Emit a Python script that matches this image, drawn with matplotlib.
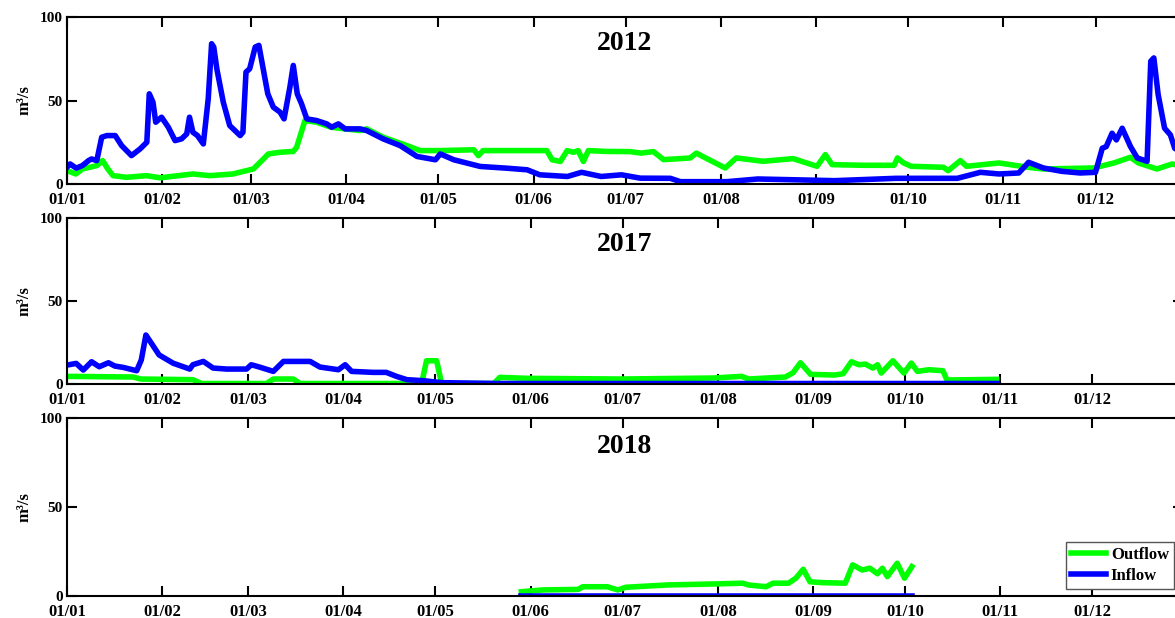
import matplotlib
matplotlib.use("Agg")
import matplotlib.pyplot as plt
import matplotlib.dates as mdates
import numpy as np
from datetime import datetime

plt.rcParams['font.family'] = ['Liberation Serif', 'DejaVu Serif']
plt.rcParams['font.weight'] = 'bold'

# ---------------- data: (day-of-year offset, m3/s) ----------------
in2012_day = [0, 1, 3, 5, 7, 8, 9.7, 11.3, 13, 15.7, 17.8, 21, 23.8, 26, 26.8, 28, 28.9, 30.8, 33,
              35.2, 37.3, 39, 39.9, 41, 42.5, 44.4, 46, 47.1, 47.8, 48.8, 50.9, 53, 56.4, 57.3, 58.3,
              59.5, 61.3, 62.5, 64, 65.4, 67.2, 69.4, 70.7, 72.6, 73.7, 75, 76.4, 78.1, 81.3, 84.6,
              86.2, 88.4, 90.6, 95.5, 97.6, 103, 108.5, 114, 120, 121.6, 126, 134.6, 143, 149.9, 154,
              163, 167.6, 174, 180.6, 186.7, 196.5, 199.8, 215, 225, 250, 270, 283, 290, 297.5, 303.6,
              310, 313.2, 318, 324, 330, 335, 337.2, 338.5, 340.4, 341.8, 343.7, 346.4, 348.6, 351.8,
              353, 354, 355.4, 357.5, 359.4, 360.8, 363]
in2012_val = [10, 12, 9.5, 11, 14, 15, 14, 28, 29, 29, 23, 17, 21, 25, 54, 49, 37, 40, 34,
              26, 27, 30, 40, 31, 29, 24, 51, 84, 82, 69, 49, 35, 29, 31, 67,
              69, 82, 83, 68, 54, 46, 43, 39, 58, 71, 54, 48, 39, 38, 36,
              34, 36, 33, 33, 32, 27, 23, 16.5, 14.5, 18, 14.5, 10.5, 9.5, 8.5, 5.5,
              4.5, 7, 4.5, 5.5, 3.5, 3.4, 1.4, 1.4, 3, 2, 3.4, 3.4, 3.4, 7, 6,
              6.6, 13, 9.6, 7.6, 6.6, 7, 21.4, 22.4, 30.4, 26.4, 33.4, 22.4, 15.6, 13.6,
              73.5, 75.5, 53.6, 33.4, 29.4, 21.4, 19]

out2012_day = [0, 2.9, 5, 9.7, 11.6, 13.3, 15, 19.4, 25.9, 30.3, 41, 46.6, 54, 60.7, 62.9, 65.6,
               69.4, 73.7, 74.8, 77.5, 81.3, 86, 90.6, 95.5, 97.6, 103, 110.7, 115, 121.6, 132.5,
               134, 135.5, 156.3, 158, 160.7, 162.9, 165, 166.5, 168.2, 169.8, 175.8, 183.4, 187,
               191, 194.3, 199.8, 203, 205, 208, 214.4, 218, 226.7, 236.5, 244.3, 247, 249.2,
               259.6, 269.4, 270.5, 272.5, 275, 285.5, 287, 291, 293, 303.6, 313, 318, 334.4,
               341, 346.4, 349, 355, 360, 363]
out2012_val = [8, 6, 9, 11, 14, 9, 5, 4, 5, 3.7, 6, 5, 6, 9, 13, 18,
               19, 19.5, 22, 38, 37, 34, 33, 32, 33, 28, 23, 20, 20, 20.5,
               17, 20, 20, 14.5, 13.5, 20, 19, 20, 13.5, 20, 19.5, 19.4, 18.5,
               19.4, 14.6, 15.2, 15.6, 18.5, 15.6, 9.6, 15.6, 13.6, 15.2, 10.6, 17.6, 11.6,
               11.2, 11.2, 15.6, 12.6, 10.6, 10, 8, 14, 10.6, 12.6, 10, 9, 9.6,
               12.6, 16, 12.6, 9, 12, 10.6]

in2017_day = [0, 3, 5.3, 8, 10.5, 13.5, 15.6, 18.3, 22.7, 24.2, 25.7, 27.5, 30, 34.6, 40, 41,
              44.4, 47.6, 52, 58.5, 60, 62.7, 67.2, 70.5, 79.2, 82.4, 88.4, 90.6, 92.7, 99.8,
              104, 107.3, 110.7, 116, 122, 140, 303]
in2017_val = [11.4, 12.4, 8.4, 13.4, 10.4, 12.8, 10.8, 10, 8, 14.5, 29.5, 24.5, 17.5, 12.5, 9, 11.6,
              13.6, 9.6, 9, 9, 11.6, 10.2, 7.6, 13.6, 13.6, 10.2, 8.6, 11.6, 7.6, 7,
              7, 4.6, 2.6, 2, 0.8, 0.3, 0.3]

out2017_day = [0, 21.6, 24, 41, 43.8, 65, 67.2, 73.7, 75.9, 115.5, 117.1, 120.4, 122, 139, 141, 150,
               180.7, 210.6, 219.7, 222, 234, 236.5, 238.9, 242.2, 250, 252.8, 255.5, 258, 260,
               262.5, 264, 265.2, 269, 272.6, 275, 277, 280.7, 285.3, 286.6, 302.8]
out2017_val = [4.6, 4.2, 3, 2.6, 0.3, 0.3, 3, 3, 0.3, 0.3, 14, 14, 0.3, 0.3, 4, 3.4,
               3, 3.6, 4.6, 3, 4.2, 6.8, 12.8, 5.8, 5.4, 6.2, 13.4, 11.6, 12,
               9.6, 11.6, 6.6, 14, 6.6, 12.6, 7.6, 8.6, 8, 2.4, 2.8]

in2018_day = [148, 275.2]
in2018_val = [0, 0]

out2018_day = [148, 155, 166.5, 168, 176, 179.4, 182, 195.5, 211.6, 220, 222, 227.7, 230, 235,
               237.4, 239.8, 242, 246, 253.5, 255.9, 259, 261.5, 264, 265.6, 267.2, 270.4,
               272.8, 275.2]
out2018_val = [2.4, 3.4, 3.7, 5.2, 5.2, 3.4, 4.9, 6.2, 6.8, 7.2, 6.2, 5.2, 7.2, 7.2,
               10, 15, 8, 7.5, 7.2, 17.5, 14.6, 15.6, 12.5, 15.6, 10.9, 18.4,
               10, 16.5]

years = [2012, 2017, 2018]
inflow = [(in2012_day, in2012_val), (in2017_day, in2017_val), (in2018_day, in2018_val)]
outflow = [(out2012_day, out2012_val), (out2017_day, out2017_val), (out2018_day, out2018_val)]

GREEN = '#00ff00'
BLUE = '#0000ff'

W, H = 1175, 618
fig = plt.figure(figsize=(W / 100, H / 100), dpi=100)

left = 67 / W
width = (1183 - 67) / W
panels = [(17, 184), (218, 384), (418, 596)]

axes = []
for i, (yr, (t_px, b_px)) in enumerate(zip(years, panels)):
    ax = fig.add_axes([left, 1 - b_px / H, width, (b_px - t_px) / H])
    axes.append(ax)
    base = mdates.date2num(datetime(yr, 1, 1))
    od, ov = outflow[i]
    idd, iv = inflow[i]
    ax.plot(base + np.asarray(od), ov, color=GREEN, lw=4, label='Outflow',
            solid_joinstyle='round')
    ax.plot(base + np.asarray(idd), iv, color=BLUE, lw=4, label='Inflow',
            solid_joinstyle='round')
    ax.set_xlim(base, base + 363.5)
    ax.set_ylim(0, 100)
    ax.set_yticks([0, 50, 100])
    ax.xaxis.set_major_locator(mdates.MonthLocator())
    ax.xaxis.set_major_formatter(mdates.DateFormatter('%d/%m'))
    ax.tick_params(direction='in', length=7, width=1.5, top=True, right=True)
    ax.tick_params(axis='x', pad=6, labelsize=12)
    ax.tick_params(axis='y', pad=3, labelsize=11)
    for lab in ax.get_xticklabels() + ax.get_yticklabels():
        lab.set_fontweight('bold')
    for s in ax.spines.values():
        s.set_linewidth(1.5)
    ax.set_ylabel('m³/s', fontsize=12, fontweight='bold', labelpad=5)
    ax.text(0.5, 0.84, str(yr), transform=ax.transAxes, ha='center', va='center',
            fontsize=20, fontweight='bold')

leg = axes[2].legend(loc='lower right', bbox_to_anchor=(1174 / W, 1 - 589 / H),
                     bbox_transform=fig.transFigure, fancybox=False, framealpha=1,
                     edgecolor='#555555', prop={'weight': 'bold', 'size': 12},
                     handlelength=2.1, labelspacing=0.3, borderpad=0.3,
                     handletextpad=0.3, borderaxespad=0)
leg.get_frame().set_linewidth(1.0)

fig.savefig('out.png', dpi=100)
